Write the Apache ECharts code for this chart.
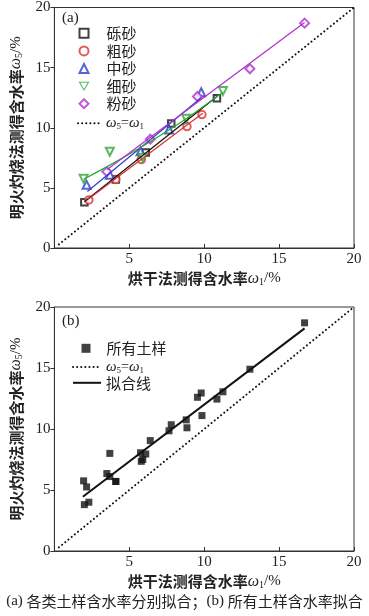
<!DOCTYPE html>
<html><head><meta charset="utf-8">
<script src="https://cdn.jsdelivr.net/npm/echarts@6/dist/echarts.min.js"></script>
<style>html,body{margin:0;padding:0;background:#fff}#c{width:369px;height:616px}</style>
</head><body><div id="c"></div>
<script>
// ---- data ----
const gravelX = [2.0, 4.1, 6.1, 7.8, 10.85];
const gravelY = [3.8, 5.7, 7.95, 10.35, 12.45];
const coarseX = [2.3, 4.1, 5.8, 8.85, 9.85];
const coarseY = [4.0, 5.7, 7.35, 10.1, 11.1];
const mediumX = [2.15, 3.7, 5.75, 7.65, 9.8];
const mediumY = [5.25, 6.1, 8.05, 9.85, 12.95];
const fineX = [1.95, 3.7, 5.9, 8.8, 11.25];
const fineY = [5.75, 8.0, 7.5, 10.75, 13.05];
const siltX = [3.5, 6.4, 9.55, 13.05, 16.7];
const siltY = [6.35, 9.05, 12.6, 14.9, 18.7];

const fitGravelX = [2.0, 10.85], fitGravelY = [3.85, 12.6];
const fitCoarseX = [2.25, 9.9], fitCoarseY = [4.05, 11.2];
const fitMediumX = [2.2, 9.8], fitMediumY = [4.7, 12.5];
const fitFineX = [1.95, 4.0, 6.0, 8.5, 11.25], fitFineY = [5.72, 7.1, 8.55, 10.5, 12.95];
const fitSiltX = [3.5, 16.7], fitSiltY = [6.5, 18.75];
const fitAllX = [1.9, 16.7], fitAllY = [4.45, 18.25];
const identX = [0.3, 20], identY = [0.3, 20];

const groupNames = ['砾砂', '粗砂', '中砂', '细砂', '粉砂'];
const axisTicks = [0, 5, 10, 15, 20];

// ---- helpers ----
const zip = (xs, ys) => xs.map((x, i) => [x, ys[i]]);
const serif = 'Liberation Serif, Times New Roman, serif';
const cjk = 'Noto Sans CJK SC';
const rich = {
  c: {fontFamily: cjk, fontSize: 15, fontWeight: 'bold', color: '#222'},
  w: {fontFamily: serif, fontSize: 16, fontStyle: 'italic', color: '#222'},
  s: {fontFamily: serif, fontSize: 10, color: '#222', padding: [7, 0, 0, 0]},
  n: {fontFamily: serif, fontSize: 15, color: '#222'}
};
function legRich(padL) {
  return {
    c: {fontFamily: cjk, fontSize: 15, color: '#222', padding: [0, 0, 0, padL]},
    w: {fontFamily: serif, fontSize: 15, fontStyle: 'italic', color: '#222'},
    s: {fontFamily: serif, fontSize: 9, color: '#222', padding: [7, 0, 0, 0]},
    t: {fontFamily: serif, fontSize: 14, color: '#222'}
  };
}
const xName = '{c|烘干法测得含水率}{w|ω}{s|1}{n|/%}';
const yName = '{c|明火灼烧法测得含水率}{w|ω}{s|5}{n|/%}';

const gridL = 53, gridW = 301;
function xAxisFor(i) {
  return {
    gridIndex: i, type: 'value', min: axisTicks[0], max: axisTicks[4], interval: 5,
    axisLine: {show: true, onZero: false, lineStyle: {color: '#333', width: 1}},
    axisTick: {show: true, inside: true, length: 4, lineStyle: {color: '#333'}},
    axisLabel: {fontFamily: serif, fontSize: 15, color: '#222', margin: 4, showMinLabel: false},
    splitLine: {show: false},
    name: xName, nameLocation: 'middle', nameGap: 22,
    nameTextStyle: {rich: rich}
  };
}
function yAxisFor(i) {
  return {
    gridIndex: i, type: 'value', min: axisTicks[0], max: axisTicks[4], interval: 5,
    axisLine: {show: true, onZero: false, lineStyle: {color: '#333', width: 1}},
    axisTick: {show: true, inside: false, length: 4, lineStyle: {color: '#333'}},
    axisLabel: {fontFamily: serif, fontSize: 15, color: '#222', margin: 4, showMinLabel: true},
    splitLine: {show: false},
    name: yName, nameLocation: 'middle', nameGap: 24,
    nameTextStyle: {rich: rich}
  };
}

const colors = ['#111111', '#d8322d', '#2a3fcc', '#2fa83a', '#b02fcc'];
const symbols = ['emptyRect', 'emptyCircle', 'emptyTriangle', 'emptyTriangle', 'emptyDiamond'];
const rotates = [0, 0, 0, 180, 0];
const sizes = [6.5, 7.5, 8, 8, 9];
const pts = [zip(gravelX, gravelY), zip(coarseX, coarseY), zip(mediumX, mediumY), zip(fineX, fineY), zip(siltX, siltY)];
const fits = [zip(fitGravelX, fitGravelY), zip(fitCoarseX, fitCoarseY), zip(fitMediumX, fitMediumY), zip(fitFineX, fitFineY), zip(fitSiltX, fitSiltY)];

const series = [];
const dotted = {color: '#111', width: 2, type: [0.1, 4], cap: 'round'};
series.push({name: 'identA', type: 'line', xAxisIndex: 0, yAxisIndex: 0, data: zip(identX, identY),
  symbol: 'none', lineStyle: dotted, silent: true});
for (let i = 0; i < 5; i++) {
  series.push({name: groupNames[i] + 'fit', type: 'line', xAxisIndex: 0, yAxisIndex: 0, data: fits[i],
    symbol: 'none', smooth: i === 3 ? 0.3 : false, lineStyle: {color: colors[i], width: 1.2}, silent: true});
}
for (let i = 0; i < 5; i++) {
  series.push({name: groupNames[i], type: 'scatter', xAxisIndex: 0, yAxisIndex: 0, data: pts[i],
    symbol: symbols[i], symbolRotate: rotates[i], symbolSize: sizes[i],
    itemStyle: {color: colors[i], borderWidth: 1.1}});
}
// panel b
series.push({name: 'identB', type: 'line', xAxisIndex: 1, yAxisIndex: 1, data: zip(identX, identY),
  symbol: 'none', lineStyle: dotted, silent: true});
series.push({name: '拟合线', type: 'line', xAxisIndex: 1, yAxisIndex: 1, data: zip(fitAllX, fitAllY),
  symbol: 'none', lineStyle: {color: '#111', width: 2}, silent: true});
series.push({name: '所有土样', type: 'scatter', xAxisIndex: 1, yAxisIndex: 1,
  data: [].concat(...pts), symbol: 'rect', symbolSize: 7, itemStyle: {color: '#111'}});

const legendFmt = n => {
  if (n === 'identA' || n === 'identB') return '{w|ω}{s|5}{t|=}{w|ω}{s|1}';
  return '{c|' + n + '}';
};
const hideSym = {opacity: 0};
const legendA = groupNames.map((n, i) => {
  if (rotates[i] === 180) {
    return {name: n, icon: 'path://M0,0L10,0L5,8.66Z',
      itemStyle: {color: '#ffffff', borderColor: colors[i], borderWidth: 1.1}};
  }
  return {name: n, icon: symbols[i]};
});

const option = {
  animation: false,
  backgroundColor: '#fff',
  grid: [
    {left: gridL, top: 5, width: gridW, height: 243, show: true, borderColor: '#333', borderWidth: 1},
    {left: gridL, top: 307, width: gridW, height: 244, show: true, borderColor: '#333', borderWidth: 1}
  ],
  xAxis: [xAxisFor(0), xAxisFor(1)],
  yAxis: [yAxisFor(0), yAxisFor(1)],
  legend: [
    {data: legendA,
     orient: 'vertical', left: 78.5, top: 25.8, padding: 0,
     itemWidth: 9, itemHeight: 9, itemGap: 2.6, selectedMode: false, formatter: legendFmt,
     textStyle: {rich: legRich(13), lineHeight: 15}},
    {data: [{name: 'identA', itemStyle: hideSym}], orient: 'vertical', left: 77, top: 115.8, padding: 0,
     itemWidth: 23, itemHeight: 9, selectedMode: false, formatter: legendFmt,
     textStyle: {rich: legRich(0), lineHeight: 15}},
    {data: ['所有土样'], orient: 'vertical', left: 81.5, top: 340.8, padding: 0,
     itemWidth: 9, itemHeight: 9, selectedMode: false, formatter: legendFmt,
     textStyle: {rich: legRich(11), lineHeight: 15}},
    {data: [{name: 'identB', itemStyle: hideSym}, {name: '拟合线', itemStyle: hideSym}], orient: 'vertical', left: 72, top: 359.5, padding: 0,
     itemWidth: 28, itemHeight: 9, itemGap: 0.3, selectedMode: false, formatter: legendFmt,
     textStyle: {rich: legRich(0), lineHeight: 14}}
  ],
  title: [
    {text: '(a)', left: 62, top: 11, padding: 0, textStyle: {fontFamily: serif, fontSize: 15, fontWeight: 'normal', color: '#222'}},
    {text: '(b)', left: 62, top: 314, padding: 0, textStyle: {fontFamily: serif, fontSize: 15, fontWeight: 'normal', color: '#222'}},
    {text: '{a|(a) }{c|各类土样含水率分别拟合；}{a|(b) }{c|所有土样含水率拟合}', left: 'center', top: 594, padding: 0,
     textStyle: {fontWeight: 'normal', rich: {a: {fontFamily: serif, fontSize: 15, fontWeight: 'normal', color: '#222'}, c: {fontFamily: cjk, fontSize: 15, fontWeight: 'normal', color: '#222'}}}}
  ],
  series: series
};
echarts.init(document.getElementById('c'), null, {renderer: 'canvas'}).setOption(option);
</script></body></html>
